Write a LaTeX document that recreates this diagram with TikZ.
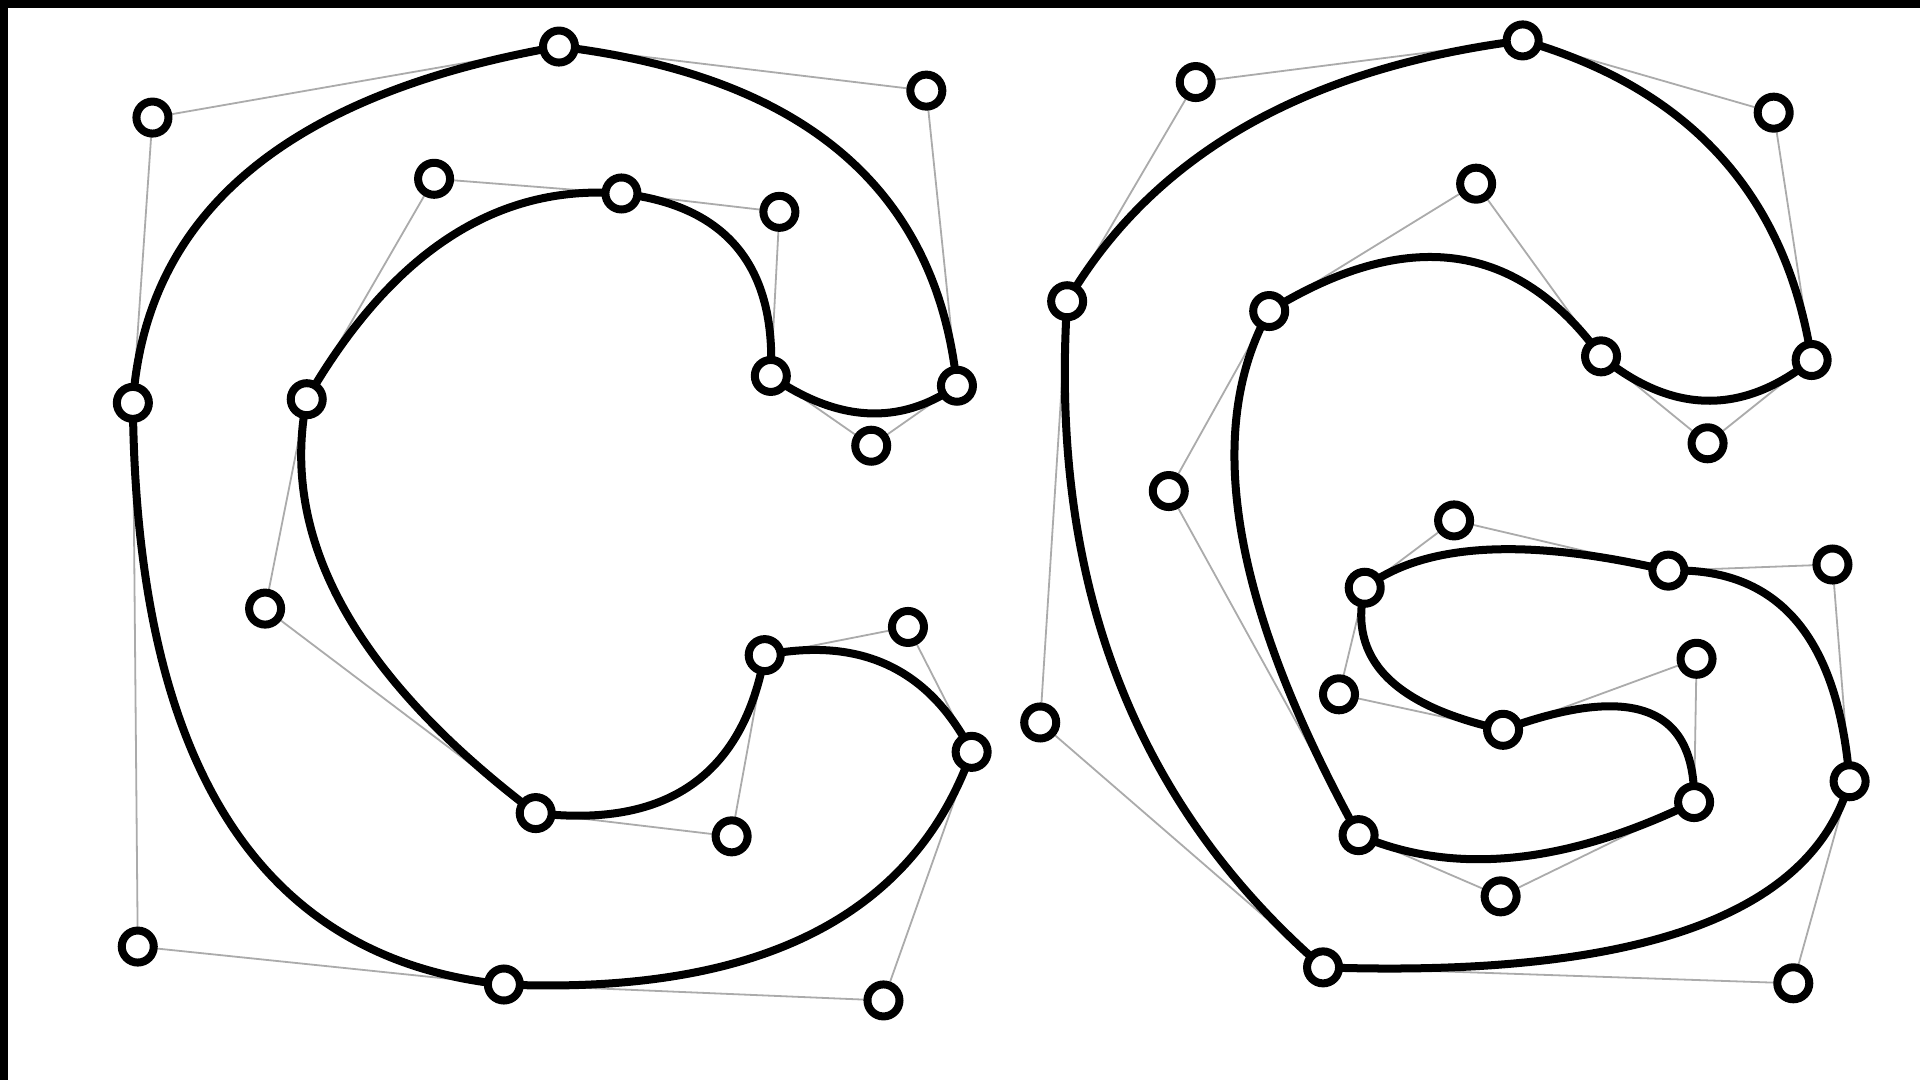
\documentclass[tikz,border=0pt]{standalone}
\usepackage{xcolor}
\usetikzlibrary{calc}
\usetikzlibrary{backgrounds}
\definecolor{polygrey}{HTML}{ABABAB}
\tikzset{
    handle/.style={circle, draw=black, fill=white, line width=0.08cm, minimum size=0.32cm, inner sep=0pt, outer sep=0pt},
    outline/.style={draw=black, line width=0.08cm},
    polyline/.style={draw=polygrey, line width=0.018cm}
}

\begin{document}
\begin{tikzpicture}[x=0.012245cm, y=-0.012245cm]
    \useasboundingbox (-0.5,0) rectangle (1567.5,882);
    \fill[black] (-0.5,0) rectangle (1567.5,6.5);
    \fill[black] (-0.5,0) rectangle (6,882);

    % letter C
    \node[handle] at (108,329) (ca) {};
    \node[handle] at (124,96) (cb) {};
    \node[handle] at (456,38) (cc) {};
    \node[handle] at (756,74) (cd) {};
    \node[handle] at (781,315) (ce) {};
    \node[handle] at (711,364) (cf) {};
    \node[handle] at (629,307) (cg) {};
    \node[handle] at (636,173) (ch) {};
    \node[handle] at (507,158) (ci) {};
    \node[handle] at (354,146) (cj) {};
    \node[handle] at (250,326) (ck) {};
    \node[handle] at (216,497) (cl) {};
    \node[handle] at (437,664) (cm) {};
    \node[handle] at (597,683) (cn) {};
    \node[handle] at (624,535) (co) {};
    \node[handle] at (741,512) (cp) {};
    \node[handle] at (793,614) (cq) {};
    \node[handle] at (721,817) (cr) {};
    \node[handle] at (411,804) (cs) {};
    \node[handle] at (112,773) (ct) {};

    % letter G
    \node[handle] at (871,246) (ga) {};
    \node[handle] at (976,67) (gb) {};
    \node[handle] at (1243,33) (gc) {};
    \node[handle] at (1448,92) (gd) {};
    \node[handle] at (1479,294) (ge) {};
    \node[handle] at (1394,362) (gf) {};
    \node[handle] at (1307,291) (gg) {};
    \node[handle] at (1205,150) (gh) {};
    \node[handle] at (1036,254) (gi) {};
    \node[handle] at (954,401) (gj) {};
    \node[handle] at (1109,682) (gk) {};
    \node[handle] at (1225,732) (gl) {};
    \node[handle] at (1383,655) (gm) {};
    \node[handle] at (1385,538) (gn) {};
    \node[handle] at (1227,596) (go) {};
    \node[handle] at (1093,567) (gp) {};
    \node[handle] at (1114,480) (gq) {};
    \node[handle] at (1187,425) (gr) {};
    \node[handle] at (1362,466) (gs) {};
    \node[handle] at (1496,461) (gt) {};
    \node[handle] at (1510,638) (gu) {};
    \node[handle] at (1464,803) (gv) {};
    \node[handle] at (1080,790) (gw) {};
    \node[handle] at (849,590) (gx) {};

    \begin{pgfonlayer}{background}
    \fill[white] (-0.5,0) rectangle (1567.5,882);
    \foreach \from/\ctrl/\to in {ca/cb/cc, cc/cd/ce, ce/cf/cg, cg/ch/ci, ci/cj/ck, ck/cl/cm, cm/cn/co, co/cp/cq, cq/cr/cs, cs/ct/ca,
        ga/gb/gc, gc/gd/ge, ge/gf/gg, gg/gh/gi, gi/gj/gk, gk/gl/gm, gm/gn/go, go/gp/gq, gq/gr/gs, gs/gt/gu, gu/gv/gw, gw/gx/ga}
        \path[polyline] (\from) -- (\ctrl) -- (\to);

    % end points at the centres, the handles hide them
    \foreach \from/\ctrl/\to in {ca/cb/cc, cc/cd/ce, ce/cf/cg, cg/ch/ci, ci/cj/ck, ck/cl/cm, cm/cn/co, co/cp/cq, cq/cr/cs, cs/ct/ca,
        ga/gb/gc, gc/gd/ge, ge/gf/gg, gg/gh/gi, gi/gj/gk, gk/gl/gm, gm/gn/go, go/gp/gq, gq/gr/gs, gs/gt/gu, gu/gv/gw, gw/gx/ga}
        \path[outline] (\from.center) .. controls ($(\from.center)!0.6667!(\ctrl.center)$) and ($(\to.center)!0.6667!(\ctrl.center)$) .. (\to.center);
    \end{pgfonlayer}
\end{tikzpicture}
\end{document}
